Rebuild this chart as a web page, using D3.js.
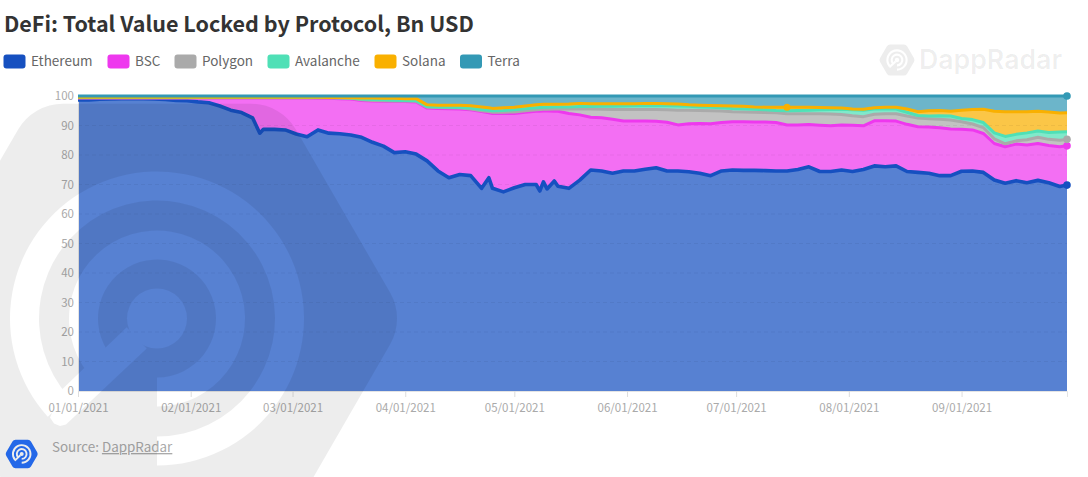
<!DOCTYPE html>
<html>
<head>
<meta charset="utf-8">
<script src="https://cdn.jsdelivr.net/npm/d3@7"></script>
<style>
html,body{margin:0;padding:0;background:#fff;overflow:hidden}
text{font-family:"Noto Sans CJK SC","Noto Sans",sans-serif}
</style>
</head>
<body>
<svg id="c" width="1088" height="477"></svg>
<script>
const titleText = "DeFi: Total Value Locked by Protocol, Bn USD";
const seriesNames = ["Ethereum","BSC","Polygon","Avalanche","Solana","Terra"];
const lineColors = ["#1650c0","#ee38ee","#aaaaaa","#4fe0b6","#f9b000","#3399b5"];
const yTicks = [0,10,20,30,40,50,60,70,80,90,100];
const dayOffsets = [0,3,6,9,12,15,18,21,24,27,30,33,36,39,42,45,48,50,51,54,57,60,63,66,69,72,75,78,81,84,87,90,93,96,99,102,105,108,111,113,114,117,120,123,126,127,128,129,131,132,135,138,141,144,147,150,153,156,159,162,165,168,171,174,177,180,183,186,189,192,195,198,201,204,207,210,213,216,219,222,225,228,231,234,237,240,243,246,249,252,255,258,261,264,267,270,272];
// upper edge of each band
const ethereum = [98.7,98.7,98.9,99,99.1,99.1,99.1,99,98.8,98.5,98.4,98,97.7,96.6,95.2,94.4,92.6,87.4,88.7,88.7,88.5,87.1,86.2,88.5,87.4,87.2,86.8,86,84.3,83,80.8,81.1,80.3,78,74.6,72.3,73.4,73,68.7,72.3,68.7,67.5,68.9,70,70,67.8,70.9,68.5,71.2,69.4,68.7,71.5,74.9,74.6,73.8,74.6,74.6,75.2,75.7,74.6,74.6,74.3,73.8,73,74.6,74.9,74.8,74.8,74.7,74.6,74.6,75.1,76,74.4,74.4,74.9,74.4,75.1,76.3,76,76.3,74.4,74.1,73.8,73,73,74.5,74.6,74.1,71.5,70.4,71.3,70.6,71.4,70.6,69.3,69.8];
const bsc = [99.3,99.3,99.3,99.3,99.3,99.3,99.3,99.3,99.3,99.3,99.3,99.3,99.3,99.3,99.3,99.3,99.3,99.3,99.3,99.3,99.3,99.3,99.3,99.2,99.2,99.1,99,98.5,98.3,98.2,98.1,98.1,98,95.9,95.8,95.7,95.6,95.3,94.7,94.3,94.1,94.1,94.1,94.5,94.8,94.8,94.9,94.9,94.8,94.8,94.1,93.6,92.8,92.6,92.1,91.5,91.5,91.5,91.4,91.1,90.2,90.6,90.7,90.6,91,91.3,91.3,91.2,91.2,91,90.2,90.2,90.3,90.1,89.9,90.2,90.1,89.9,91.6,91.6,91.5,90.4,89.6,89.5,89.2,88.8,88.7,88.5,87.3,83.9,82.8,83.7,83.4,83.9,83.2,82.8,83.1];
const polygon = [99.4,99.4,99.4,99.4,99.4,99.4,99.4,99.4,99.4,99.4,99.4,99.4,99.4,99.4,99.4,99.4,99.4,99.4,99.4,99.4,99.4,99.4,99.4,99.4,99.4,99.3,99.2,98.7,98.5,98.4,98.3,98.3,98.2,96.2,96.1,96,95.9,95.6,95,94.7,94.5,94.5,94.6,95,95.3,95.4,95.5,95.5,95.6,95.6,95.6,95.7,95.6,95.5,95.4,95.4,95.4,95.4,95.4,95.3,95.2,95.2,95.1,95,94.9,94.7,94.6,94.5,94.4,94.3,94,94,94,94,93.9,93.7,93.3,93,93.8,94,94,93.2,92.5,92.3,92.1,91.9,91.3,90.5,89.3,85.5,83.8,84.8,85.2,86,85.3,85,85.3];
const avalanche = [99.5,99.5,99.5,99.5,99.5,99.5,99.5,99.5,99.5,99.5,99.5,99.5,99.5,99.5,99.5,99.5,99.5,99.5,99.5,99.5,99.5,99.5,99.5,99.5,99.5,99.4,99.3,99,98.8,98.7,98.6,98.5,98.4,96.4,96.3,96.2,96.1,95.9,95.4,95.2,95,95.1,95.3,95.7,96,96.1,96.2,96.2,96.3,96.3,96.3,96.4,96.4,96.5,96.5,96.6,96.7,96.7,96.7,96.7,96.6,96.5,96.3,96.2,96,95.8,95.7,95.5,95.3,95.1,95,95.1,95.2,95.3,95.4,95.5,95.3,95.2,95.6,95.6,95.6,94.5,93.4,93.2,93.3,93.2,92.4,92,91,87.5,86.3,87,87.5,88.1,87.6,87.8,87.9];
const solana = [99.6,99.6,99.6,99.6,99.6,99.6,99.6,99.6,99.6,99.6,99.6,99.6,99.6,99.6,99.6,99.6,99.6,99.6,99.6,99.6,99.6,99.6,99.6,99.6,99.5,99.5,99.4,99.3,99.3,99.2,99.2,99.1,99.1,97,96.9,96.9,96.9,96.7,96.3,96,95.8,96,96.2,96.6,97,97.1,97.2,97.2,97.2,97.2,97.3,97.5,97.4,97.4,97.4,97.4,97.4,97.5,97.5,97.4,97.3,97,96.9,96.8,96.7,96.6,96.5,96.3,96.2,96.2,96.2,96.2,96.2,96.1,96,95.9,95.6,95.5,96,96.2,96.2,95.6,94.7,95,95.1,94.8,95.2,95.4,95.5,94.8,94.7,94.7,94.7,94.8,94.6,94.2,94.3];
const terra = [100,100,100,100,100,100,100,100,100,100,100,100,100,100,100,100,100,100,100,100,100,100,100,100,100,100,100,100,100,100,100,100,100,100,100,100,100,100,100,100,100,100,100,100,100,100,100,100,100,100,100,100,100,100,100,100,100,100,100,100,100,100,100,100,100,100,100,100,100,100,100,100,100,100,100,100,100,100,100,100,100,100,100,100,100,100,100,100,100,100,100,100,100,100,100,100,100];
const bands = [ethereum,bsc,polygon,avalanche,solana,terra];
// [band index, position in dayOffsets] of the round markers on the lines
const markers = [[0,96],[1,96],[2,96],[5,96],[4,70]];

const svg = d3.select("#c");
const start = Date.UTC(2021,0,1);
const dates = dayOffsets.map(d => new Date(start + d*864e5));
const x = d3.scaleUtc().domain([new Date(Date.UTC(2021,0,1)), new Date(Date.UTC(2021,8,30))]).range([78,1067]);
const y = d3.scaleLinear().domain([0,100]).range([391,96]);

// title
svg.append("text").attr("x",4).attr("y",32).attr("font-size",21.5).attr("font-weight",700).attr("fill","#333").text(titleText);

// legend
const legendX = [3.5,107.5,174.5,267.5,374.5,460];
seriesNames.forEach((n,i)=>{
  svg.append("rect").attr("x",legendX[i]).attr("y",54.5).attr("width",22).attr("height",14).attr("rx",3).attr("fill",lineColors[i]);
  svg.append("text").attr("x",legendX[i]+27.5).attr("y",66).attr("font-size",13.5).attr("fill","#666").text(n);
});

// areas
const zero = dates.map(()=>0);
bands.forEach((b,i)=>{
  const lower = i ? bands[i-1] : zero;
  const area = d3.area().x((d,k)=>x(dates[k])).y0((d,k)=>y(lower[k])).y1((d,k)=>y(b[k]));
  svg.append("path").attr("d",area(b)).attr("fill",lineColors[i]).attr("fill-opacity",0.72);
});

// grid and axes
const grid = svg.append("g");
yTicks.slice(1,-1).forEach(t=>{
  grid.append("line").attr("x1",x.range()[0]).attr("x2",x.range()[1]).attr("y1",y(t)).attr("y2",y(t))
    .attr("stroke","#000").attr("stroke-opacity",0.05).attr("stroke-dasharray","4 3");
});
const yAxis = svg.append("g").attr("transform","translate(78,0)")
  .call(d3.axisLeft(y).tickValues(yTicks).tickSize(0).tickPadding(4));
yAxis.select(".domain").attr("stroke","#e4e4e4");
yAxis.selectAll("text").attr("font-size",11.5).attr("fill","#aaa").attr("font-family",'"Noto Sans CJK SC"');
const xAxis = svg.append("g").attr("transform","translate(0,391)")
  .call(d3.axisBottom(x).ticks(d3.utcMonth.every(1)).tickFormat(d3.utcFormat("%m/%d/%Y")).tickSize(6).tickPadding(7));
xAxis.select(".domain").attr("stroke","#e4e4e4");
xAxis.selectAll("line").attr("stroke","#ddd");
xAxis.selectAll("text").attr("font-size",11.5).attr("fill","#aaa").attr("font-family",'"Noto Sans CJK SC"');

// lines
bands.forEach((b,i)=>{
  const line = d3.line().x((d,k)=>x(dates[k])).y(d=>y(d));
  svg.append("path").attr("d",line(b)).attr("fill","none").attr("stroke",lineColors[i])
    .attr("stroke-width",i===0?3.6:3).attr("stroke-linejoin","round");
});
markers.forEach(([s,k])=>{
  svg.append("circle").attr("cx",x(dates[k])).attr("cy",y(bands[s][k])).attr("r",s===4?3.5:3.8).attr("fill",lineColors[s]);
});

// source
const src = svg.append("text").attr("x",52).attr("y",452).attr("font-size",13.4).attr("fill","#aaa");
src.append("tspan").text("Source: ");
src.append("tspan").attr("text-decoration","underline").text("DappRadar");

// brand marks: one hexagon with rings cut out, placed three times
const defs = svg.append("defs");
function logoMask(id,cx,cy,R){
  const s = R/248;
  const m = defs.append("mask").attr("id",id).attr("maskUnits","userSpaceOnUse")
    .attr("x",-400).attr("y",-400).attr("width",1900).attr("height",1300);
  const g = m.append("g").attr("transform",`translate(${cx},${cy}) scale(${s})`);
  const hexR = 188;
  const hex = d3.range(6).map(i=>[hexR*Math.cos(i*Math.PI/3),hexR*Math.sin(i*Math.PI/3)]);
  g.append("polygon").attr("points",hex.join(" ")).attr("fill","#fff").attr("stroke","#fff")
    .attr("stroke-width",104).attr("stroke-linejoin","round");
  const rad = a=>a*Math.PI/180;
  g.append("path").attr("d",d3.arc()({innerRadius:118,outerRadius:147,startAngle:rad(228),endAngle:rad(540)})).attr("fill","#000");
  g.append("path").attr("d",d3.arc()({innerRadius:59,outerRadius:88,startAngle:rad(225),endAngle:rad(540)})).attr("fill","#000");
  g.append("circle").attr("r",30).attr("fill","#000");
  g.append("polygon").attr("points","-30.3,8.7 -94,70 -107,99 -103,105 -97,107.5 -91,106 -10.3,30").attr("fill","#000");
}
function logo(id,cx,cy,R,fill,op){
  logoMask(id,cx,cy,R);
  svg.append("rect").attr("x",0).attr("y",0).attr("width",1088).attr("height",477)
    .attr("fill",fill).attr("fill-opacity",op).attr("mask",`url(#${id})`);
}
logo("m1",157,318.5,248,"#000",0.07);
logo("m2",897,60,18,"#000",0.07);
logo("m3",21.7,454,16.5,"#2468e8",1);
svg.append("text").attr("x",919).attr("y",69).attr("font-size",27).attr("font-weight",600)
  .style("font-family","Inter").attr("fill","#000").attr("fill-opacity",0.07)
  .attr("textLength",143).attr("lengthAdjust","spacingAndGlyphs").text("DappRadar");
</script>
</body>
</html>
